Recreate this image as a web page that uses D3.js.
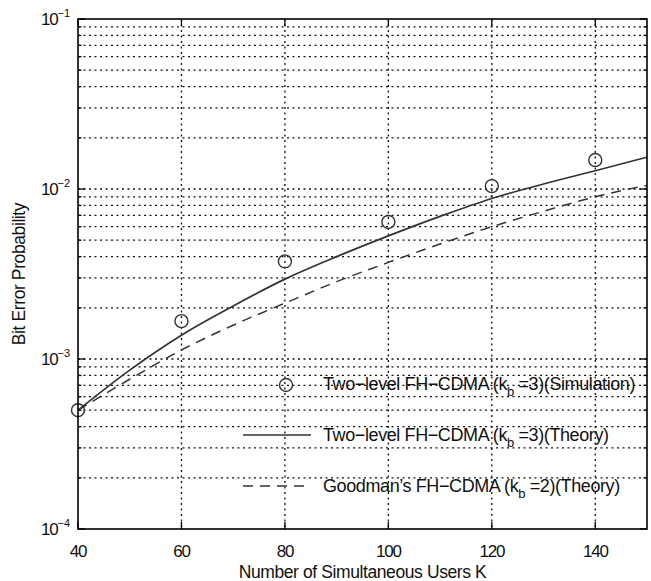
<!DOCTYPE html>
<html>
<head>
<meta charset="utf-8">
<script src="https://cdn.jsdelivr.net/npm/d3@7"></script>
<style>
  body { margin: 0; background: #fff; }
  svg { display: block; font-family: "Liberation Sans", Arial, sans-serif; }
</style>
</head>
<body>
<div id="chart"></div>
<script>
const users = [40, 50, 60, 70, 80, 90, 100, 110, 120, 130, 140, 150];
const theoryTwoLevel = [5.0e-4, 8.6e-4, 1.38e-3, 2.05e-3, 2.95e-3, 4.0e-3, 5.3e-3, 6.9e-3, 8.8e-3, 1.07e-2, 1.28e-2, 1.54e-2];
const theoryGoodman = [5.0e-4, 7.6e-4, 1.13e-3, 1.58e-3, 2.13e-3, 2.85e-3, 3.7e-3, 4.75e-3, 6.0e-3, 7.4e-3, 9.0e-3, 1.05e-2];
const simUsers = [40, 60, 80, 100, 120, 140];
const simTwoLevel = [5.0e-4, 1.67e-3, 3.75e-3, 6.4e-3, 1.04e-2, 1.48e-2];
const xTicks = [40, 60, 80, 100, 120, 140];
const yDecades = [-4, -3, -2, -1];

const width = 651, height = 581;
const margin = { top: 19, right: 4, bottom: 52, left: 78 };
const w = width - margin.left - margin.right;
const h = height - margin.top - margin.bottom;

const svg = d3.select('#chart').append('svg').attr('width', width).attr('height', height);
const g = svg.append('g').attr('transform', `translate(${margin.left},${margin.top})`);

const x = d3.scaleLinear().domain([40, 150]).range([0, w]);
const y = d3.scaleLog().domain([1e-4, 1e-1]).range([h, 0]);

// log grid values: every minor tick between decades
const minor = [];
yDecades.slice(0, -1).forEach(d => {
  for (let k = 1; k <= 9; k++) minor.push(k * Math.pow(10, d));
});
minor.push(1e-1);

// grid
const grid = g.append('g').attr('stroke', '#111').attr('stroke-width', 1.3).attr('stroke-dasharray', '2,3.5');
grid.selectAll('.gy').data(minor.filter(v => v > 1e-4 && v < 1e-1)).enter().append('line')
  .attr('x1', 0).attr('x2', w).attr('y1', d => y(d)).attr('y2', d => y(d));
grid.selectAll('.gx').data(xTicks.filter(v => v > 40)).enter().append('line')
  .attr('y1', 0).attr('y2', h).attr('x1', d => x(d)).attr('x2', d => x(d));

// ticks inward on all sides
const tk = g.append('g').attr('stroke', '#000').attr('stroke-width', 1.3);
minor.forEach(v => {
  const major = Math.abs(Math.log10(v) - Math.round(Math.log10(v))) < 1e-9;
  const len = major ? 7 : 3.5;
  tk.append('line').attr('x1', 0).attr('x2', len).attr('y1', y(v)).attr('y2', y(v));
  tk.append('line').attr('x1', w).attr('x2', w - len).attr('y1', y(v)).attr('y2', y(v));
});
xTicks.forEach(v => {
  tk.append('line').attr('x1', x(v)).attr('x2', x(v)).attr('y1', h).attr('y2', h - 7);
  tk.append('line').attr('x1', x(v)).attr('x2', x(v)).attr('y1', 0).attr('y2', 7);
});

// curves
const line = d3.line().x(d => x(d[0])).y(d => y(d[1])).curve(d3.curveMonotoneX);
g.append('path').datum(users.map((u, i) => [u, theoryTwoLevel[i]]))
  .attr('d', line).attr('fill', 'none').attr('stroke', '#333').attr('stroke-width', 1.7);
g.append('path').datum(users.map((u, i) => [u, theoryGoodman[i]]))
  .attr('d', line).attr('fill', 'none').attr('stroke', '#333').attr('stroke-width', 1.5)
  .attr('stroke-dasharray', '10,7');

g.selectAll('.sim').data(simUsers.map((u, i) => [u, simTwoLevel[i]])).enter().append('circle')
  .attr('cx', d => x(d[0])).attr('cy', d => y(d[1])).attr('r', 6.5)
  .attr('fill', 'none').attr('stroke', '#333').attr('stroke-width', 1.4);

// frame
g.append('rect').attr('width', w).attr('height', h).attr('fill', 'none')
  .attr('stroke', '#000').attr('stroke-width', 1.6);

// x tick labels
g.selectAll('.xl').data(xTicks).enter().append('text')
  .attr('x', d => x(d)).attr('y', h + 28).attr('text-anchor', 'middle')
  .attr('font-size', 17).attr('letter-spacing', -1.2).attr('fill', '#111').text(d => d);

// y tick labels with superscript exponent
yDecades.forEach(d => {
  const t = g.append('text').attr('x', -8).attr('y', y(Math.pow(10, d)) + 6)
    .attr('text-anchor', 'end').attr('font-size', 17).attr('letter-spacing', -1.2).attr('fill', '#111');
  t.append('tspan').text('10');
  t.append('tspan').attr('dy', -8).attr('font-size', 11).attr('letter-spacing', 0).text('\u2212' + Math.abs(d));
});

// axis titles
g.append('text').attr('x', w / 2).attr('y', h + 49).attr('text-anchor', 'middle')
  .attr('font-size', 17.5).attr('letter-spacing', -0.4).attr('fill', '#111')
  .text('Number of Simultaneous Users K');
g.append('text').attr('transform', `translate(${-53},${h / 2}) rotate(-90)`)
  .attr('text-anchor', 'middle').attr('font-size', 17.5).attr('letter-spacing', -0.4).attr('fill', '#111')
  .text('Bit Error Probability');

// legend (no box)
const legendItems = [
  { pre: 'Two\u2212level FH\u2212CDMA (k', k: '3', post: '(Simulation)', type: 'circle' },
  { pre: 'Two\u2212level FH\u2212CDMA (k', k: '3', post: '(Theory)', type: 'solid' },
  { pre: 'Goodman\u2019s FH\u2212CDMA (k', k: '2', post: '(Theory)', type: 'dash' }
];
const legend = svg.append('g').attr('transform', 'translate(243,384)');
legendItems.forEach((it, i) => {
  const row = legend.append('g').attr('transform', `translate(0,${i * 51})`);
  if (it.type === 'circle') {
    row.append('circle').attr('cx', 43).attr('cy', 1).attr('r', 6.5)
      .attr('fill', 'none').attr('stroke', '#333').attr('stroke-width', 1.4);
  } else {
    row.append('line').attr('x1', 0).attr('x2', 68).attr('y1', 0).attr('y2', 0)
      .attr('stroke', '#333').attr('stroke-width', it.type === 'solid' ? 1.7 : 1.5)
      .attr('stroke-dasharray', it.type === 'dash' ? '10,7' : null);
  }
  const t = row.append('text').attr('x', 80).attr('y', 6).attr('font-size', 18)
    .attr('letter-spacing', -0.4).attr('fill', '#111');
  t.append('tspan').text(it.pre);
  t.append('tspan').attr('dy', 6).attr('font-size', 13).text('b');
  t.append('tspan').attr('dy', -6).text(' =' + it.k + ')' + it.post);
});
</script>
</body>
</html>
